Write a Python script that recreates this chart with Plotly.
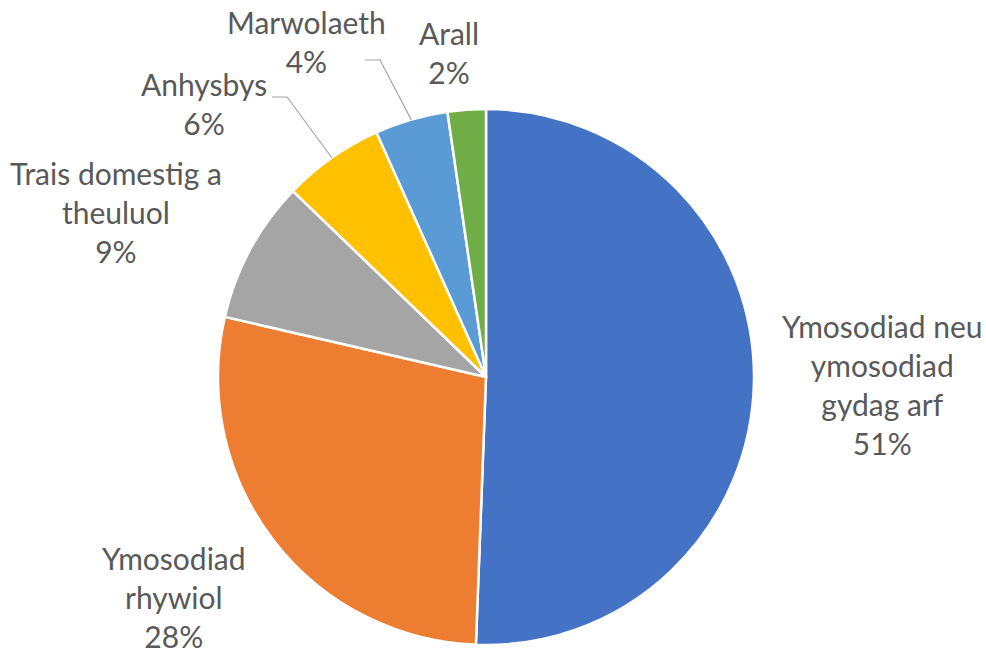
import math
import plotly.graph_objects as go

labels = ["Ymosodiad neu ymosodiad gydag arf", "Ymosodiad rhywiol",
          "Trais domestig a theuluol", "Anhysbys", "Marwolaeth", "Arall"]
label_lines = ["Ymosodiad neu<br>ymosodiad<br>gydag arf", "Ymosodiad<br>rhywiol",
               "Trais domestig a<br>theuluol", "Anhysbys", "Marwolaeth", "Arall"]
values = [50.6, 28.0, 8.6, 6.1, 4.4, 2.3]
colors = ["#4472C4", "#ED7D31", "#A5A5A5", "#FFC000", "#5B9BD5", "#70AD47"]

W, H = 986, 653
CX, CY, R = 486, 377, 268

# label centres (pixels) and whether a leader line is drawn
label_pos = [(882, 385), (174, 597), (116, 212), (204, 103), (306, 42), (449, 53)]
leader_start = {3: (272, 97), 4: (365, 60)}

def px(x, y):
    return x / W, 1 - y / H

fig = go.Figure(go.Pie(
    labels=labels, values=values, sort=False, direction="clockwise", rotation=0,
    marker=dict(colors=colors, line=dict(color="white", width=2.5)),
    textinfo="none", hoverinfo="label+percent", showlegend=False,
    domain=dict(x=[(CX - R) / W, (CX + R) / W], y=[(H - CY - R) / H, (H - CY + R) / H]),
))

total = sum(values)
cum = 0
font = dict(family="Lato, Carlito, sans-serif", size=30, color="#595959")
for i, v in enumerate(values):
    mid = (cum + v / 2) / total * 2 * math.pi
    cum += v
    pct = int(v / total * 100 + 0.5)
    lx, ly = label_pos[i]
    ax_, ay_ = px(lx, ly)
    fig.add_annotation(x=ax_, y=ay_, xref="paper", yref="paper", showarrow=False,
                       text=f"{label_lines[i]}<br>{pct}%", align="center",
                       xanchor="center", yanchor="middle", font=font)
    if i in leader_start:
        ex = CX + R * math.sin(mid)
        ey = CY - R * math.cos(mid)
        sx, sy = leader_start[i]
        p0 = px(sx, sy); p1 = px(sx + 15, sy); p2 = px(ex, ey)
        fig.add_shape(type="path", xref="paper", yref="paper",
                      path=f"M {p0[0]} {p0[1]} L {p1[0]} {p1[1]} L {p2[0]} {p2[1]}",
                      line=dict(color="#A6A6A6", width=1.2))

fig.update_layout(width=W, height=H, margin=dict(l=0, r=0, t=0, b=0),
                  paper_bgcolor="white", plot_bgcolor="white")
fig.write_html("out.html", config={"displayModeBar": False},
               post_script="document.body.style.margin='0';")
